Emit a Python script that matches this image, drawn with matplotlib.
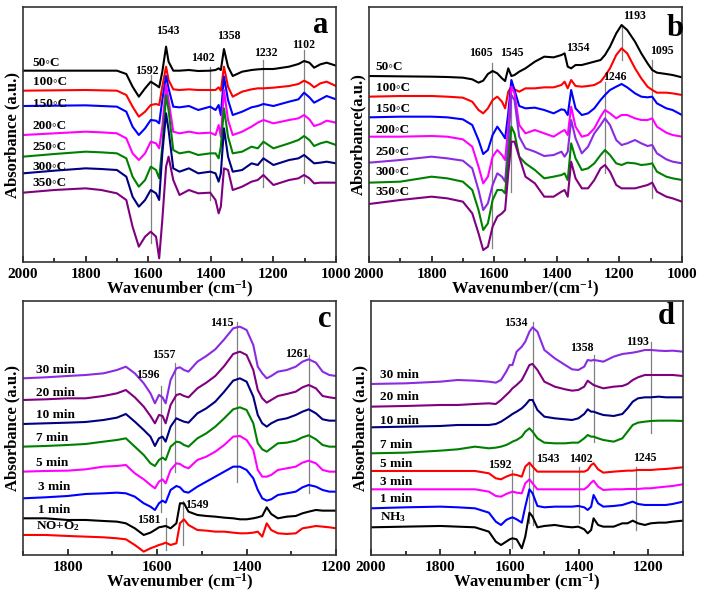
import numpy as np
import matplotlib
matplotlib.use('Agg')
import matplotlib.pyplot as plt
from matplotlib.ticker import MultipleLocator

plt.rcParams['font.family'] = ['Liberation Serif', 'DejaVu Sans']
plt.rcParams['font.weight'] = 'bold'
plt.rcParams['mathtext.fontset'] = 'custom'
plt.rcParams['mathtext.rm'] = 'Liberation Serif:bold'
plt.rcParams['mathtext.it'] = 'Liberation Serif:bold'
plt.rcParams['mathtext.bf'] = 'Liberation Serif:bold'
plt.rcParams['mathtext.default'] = 'rm'

# readings are taken from the scanned figure, in screen units (larger = lower)
# they are turned into offset absorbance by au()

# ---------------- panel a : NH3 adsorption vs temperature ----------------
wn_a = [2000, 1900, 1800, 1750, 1700, 1670, 1650, 1630, 1610, 1592, 1575, 1565, 1555,
        1543, 1535, 1520, 1500, 1470, 1440, 1402, 1385, 1375, 1368, 1358, 1345, 1330,
        1300, 1270, 1250, 1232, 1200, 1150, 1120, 1102, 1085, 1070, 1050, 1030, 1000]
names_a = ['50\u25e6C', '100\u25e6C', '150\u25e6C', '200\u25e6C', '250\u25e6C', '300\u25e6C', '350\u25e6C']
colors_a = ['black', 'red', 'blue', 'magenta', 'green', 'navy', 'purple']
a_50 = [212, 212, 212, 212, 212, 222, 260, 290, 265, 245, 255, 262, 215, 140, 185, 212, 212, 210, 213,
        212, 210, 205, 210, 147, 200, 228, 215, 210, 208, 207, 207, 200, 192, 183, 188, 203, 193, 188, 197]
a_100 = [272, 271, 270, 271, 272, 285, 320, 350, 335, 315, 312, 315, 260, 200, 240, 268, 270, 268, 270,
         270, 270, 262, 272, 200, 260, 290, 275, 268, 265, 265, 263, 258, 252, 242, 250, 262, 250, 245, 258]
a_150 = [318, 317, 316, 318, 320, 335, 380, 405, 385, 360, 362, 370, 300, 228, 265, 320, 322, 318, 330,
         320, 330, 315, 345, 230, 300, 345, 335, 322, 318, 312, 318, 305, 298, 278, 292, 308, 298, 288, 298]
a_200 = [405, 400, 395, 397, 400, 415, 460, 480, 460, 425, 430, 445, 380, 255, 300, 395, 400, 395, 400,
         398, 405, 375, 410, 270, 360, 405, 395, 380, 368, 360, 370, 360, 355, 345, 358, 378, 372, 362, 368]
a_250 = [470, 462, 455, 457, 460, 475, 530, 560, 540, 500, 510, 535, 440, 285, 330, 450, 460, 455, 465,
         460, 460, 475, 440, 325, 410, 460, 455, 440, 445, 425, 445, 430, 420, 408, 420, 438, 430, 425, 435]
a_300 = [520, 512, 505, 507, 510, 530, 590, 620, 600, 570, 580, 600, 460, 340, 390, 505, 515, 505, 520,
         515, 520, 545, 520, 385, 470, 515, 510, 490, 495, 475, 495, 480, 475, 465, 478, 490, 488, 485, 490]
a_350 = [578, 570, 565, 570, 580, 600, 680, 740, 710, 695, 710, 775, 660, 500, 470, 540, 585, 570, 580,
         578, 600, 640, 620, 505, 510, 570, 560, 545, 540, 525, 555, 540, 535, 525, 535, 550, 548, 548, 548]
label_a = [(1969, 190), (1969, 245), (1969, 312), (1969, 378), (1969, 440), (1969, 500), (1969, 548)]
peaks_a = [('1592', 1605, 212), ('1543', 1536, 92), ('1402', 1425, 175), ('1358', 1342, 107),
           ('1232', 1223, 158), ('1102', 1104, 135)]
lines_a = [(1592, 225, 730), (1402, 200, 600), (1232, 180, 560), (1102, 150, 550)]

# ---------------- panel b ----------------
wn_b = [2000, 1900, 1800, 1750, 1700, 1670, 1650, 1635, 1620, 1605, 1590, 1575, 1565, 1555, 1545,
        1535, 1520, 1500, 1470, 1440, 1410, 1385, 1375, 1365, 1354, 1340, 1320, 1300, 1280, 1260,
        1246, 1230, 1210, 1193, 1175, 1150, 1130, 1110, 1095, 1080, 1050, 1030, 1000]
names_b = names_a
colors_b = ['black', 'red', 'blue', 'magenta', '#8a2be2', 'green', 'purple']
b_50 = [228, 229, 230, 231, 233, 238, 248, 242, 222, 213, 220, 235, 243, 205, 228, 225, 215, 205, 185,
        170, 172, 165, 160, 200, 205, 195, 195, 190, 185, 180, 165, 140, 100, 75, 90, 125, 160, 190, 210,
        218, 222, 225, 232]
b_100 = [290, 288, 288, 290, 293, 305, 330, 340, 325, 300, 290, 305, 325, 275, 260, 268, 275, 265, 265,
         262, 262, 255, 245, 265, 240, 258, 260, 258, 255, 245, 228, 205, 165, 145, 160, 205, 235, 260,
         270, 278, 278, 280, 285]
b_150 = [352, 350, 350, 352, 358, 375, 420, 462, 450, 405, 380, 400, 415, 340, 240, 270, 318, 325, 323,
         330, 340, 328, 330, 345, 270, 325, 345, 340, 325, 300, 285, 270, 260, 252, 262, 280, 290, 292,
         290, 310, 325, 330, 345]
b_200 = [410, 410, 408, 410, 418, 440, 500, 550, 530, 470, 450, 465, 480, 380, 260, 280, 375, 400, 390,
         400, 410, 395, 390, 405, 320, 380, 410, 405, 385, 350, 330, 340, 355, 345, 345, 355, 360, 360,
         355, 380, 398, 405, 410]
b_250 = [488, 480, 470, 475, 482, 505, 570, 630, 610, 555, 520, 530, 545, 430, 285, 300, 410, 445, 455,
         468, 465, 455, 470, 455, 360, 415, 460, 440, 400, 375, 355, 375, 420, 435, 430, 420, 430, 438,
         435, 460, 478, 485, 490]
b_300 = [548, 545, 530, 535, 545, 570, 630, 690, 670, 600, 570, 570, 580, 470, 380, 400, 470, 490, 510,
         535, 530, 525, 520, 540, 430, 475, 510, 505, 490, 465, 450, 465, 490, 495, 488, 490, 495, 493,
         490, 515, 530, 535, 540]
b_350 = [612, 600, 590, 595, 605, 640, 700, 750, 740, 680, 650, 640, 630, 520, 425, 425, 470, 530, 550,
         590, 590, 575, 570, 590, 485, 535, 565, 565, 540, 505, 495, 515, 555, 565, 565, 565, 560, 555,
         548, 575, 590, 595, 605]
label_b = [(1979, 202), (1979, 265), (1979, 328), (1979, 390), (1979, 455), (1979, 515), (1979, 575)]
peaks_b = [('1605', 1642, 160), ('1545', 1545, 160), ('1354', 1332, 145), ('1246', 1214, 230),
           ('1193', 1150, 48), ('1095', 1064, 153)]
lines_b = [(1607, 190, 745), (1545, 240, 575), (1246, 245, 520), (1193, 75, 180), (1095, 180, 595)]

# ---------------- panel c : NO+O2 then NH3 ----------------
wn_c = [1900, 1850, 1800, 1760, 1720, 1690, 1670, 1650, 1630, 1615, 1605, 1596, 1588, 1581, 1570,
        1557, 1549, 1540, 1530, 1510, 1490, 1470, 1450, 1430, 1415, 1400, 1385, 1375, 1365, 1355,
        1345, 1330, 1310, 1290, 1275, 1261, 1245, 1230, 1215, 1200]
names_c = ['30 min', '20 min', '10 min', '7 min', '5 min', '3 min', '1 min', 'NO+O$_2$']
colors_c = ['#8a2be2', 'purple', 'navy', 'green', 'magenta', 'blue', 'black', 'red']
c_30 = [265, 262, 258, 255, 250, 240, 230, 250, 280, 310, 340, 315, 322, 340, 270, 235, 232, 240, 245,
        215, 198, 178, 148, 115, 110, 120, 165, 230, 250, 265, 258, 245, 240, 230, 215, 208, 218, 245,
        255, 258]
c_20 = [330, 328, 325, 325, 318, 310, 300, 322, 350, 378, 400, 375, 378, 400, 345, 315, 312, 318, 322,
        295, 278, 258, 228, 192, 185, 195, 240, 300, 325, 338, 330, 318, 312, 305, 292, 285, 295, 318,
        322, 325]
c_10 = [402, 400, 398, 396, 390, 383, 372, 395, 420, 440, 468, 445, 440, 455, 410, 385, 390, 395, 398,
        370, 355, 335, 305, 272, 265, 275, 320, 375, 400, 410, 400, 390, 385, 375, 365, 358, 370, 388,
        392, 392]
c_7 = [470, 468, 465, 462, 455, 450, 445, 470, 495, 520, 528, 510, 503, 510, 470, 455, 457, 465, 470,
       445, 430, 410, 385, 358, 352, 360, 400, 460, 478, 485, 475, 460, 458, 452, 442, 436, 448, 465,
       470, 470]
c_5 = [545, 543, 542, 538, 530, 528, 525, 550, 568, 585, 595, 575, 568, 580, 540, 520, 522, 530, 535,
       510, 500, 485, 465, 440, 438, 450, 480, 540, 560, 560, 555, 540, 535, 530, 518, 512, 520, 540,
       545, 545]
c_3 = [625, 622, 618, 612, 610, 608, 610, 620, 640, 650, 660, 640, 632, 638, 600, 588, 592, 605, 608,
       590, 575, 560, 545, 530, 530, 540, 565, 600, 625, 632, 628, 615, 610, 605, 592, 585, 590, 600,
       605, 605]
c_1 = [685, 685, 690, 690, 693, 695, 700, 715, 735, 728, 720, 712, 710, 708, 715, 700, 640, 640, 665,
       675, 678, 680, 683, 685, 688, 688, 685, 682, 678, 652, 672, 685, 680, 678, 670, 665, 660, 662,
       662, 662]
c_no = [735, 735, 738, 740, 742, 745, 748, 765, 785, 775, 770, 765, 762, 758, 765, 760, 700, 688, 705,
        720, 722, 725, 725, 728, 730, 730, 728, 725, 740, 700, 720, 730, 732, 730, 715, 712, 708, 710,
        712, 715]
label_c = [(1870, 240), (1870, 310), (1870, 375), (1870, 445), (1870, 518), (1867, 590), (1867, 660),
           (1870, 708)]
peaks_c = [('1596', 1620, 255), ('1557', 1586, 195), ('1415', 1456, 100), ('1261', 1287, 192),
           ('1581', 1618, 690), ('1549', 1512, 645)]
lines_c = [(1592, 288, 665), (1560, 218, 545), (1421, 95, 575), (1261, 195, 610), (1581, 685, 780),
           (1543, 632, 765)]

# ---------------- panel d : NH3 then NO+O2 ----------------
wn_d = [2000, 1900, 1800, 1750, 1700, 1660, 1640, 1625, 1610, 1600, 1592, 1580, 1565, 1555, 1543,
        1534, 1520, 1500, 1470, 1440, 1420, 1402, 1385, 1375, 1365, 1358, 1345, 1330, 1300, 1275,
        1260, 1245, 1230, 1210, 1193, 1170, 1150, 1130, 1100]
names_d = ['30 min', '20 min', '10 min', '7 min', '5 min', '3 min', '1 min', 'NH$_3$']
colors_d = ['#8a2be2', 'purple', 'navy', 'green', 'red', 'magenta', 'blue', 'black']
d_30 = [282, 280, 275, 270, 272, 275, 278, 270, 245, 225, 225, 185, 170, 155, 125, 112, 125, 180, 205,
        225, 238, 240, 230, 210, 212, 210, 212, 215, 200, 192, 190, 188, 185, 180, 180, 182, 183, 182, 185]
d_20 = [350, 348, 345, 345, 342, 340, 342, 330, 315, 305, 295, 285, 270, 250, 225, 222, 240, 275, 290,
        298, 302, 300, 290, 272, 280, 285, 290, 295, 290, 288, 282, 270, 262, 255, 255, 255, 255, 255, 258]
d_10 = [412, 410, 408, 405, 405, 405, 402, 395, 385, 378, 372, 365, 355, 345, 330, 330, 360, 380, 385,
        388, 390, 385, 372, 358, 365, 365, 370, 375, 378, 372, 355, 335, 325, 322, 322, 320, 322, 322, 322]
d_7 = [490, 488, 482, 478, 470, 475, 473, 470, 465, 460, 455, 450, 440, 425, 415, 425, 445, 458, 460,
       460, 458, 458, 445, 435, 440, 440, 445, 450, 455, 445, 425, 405, 398, 395, 393, 392, 392, 392, 393]
d_5 = [543, 543, 543, 543, 543, 550, 565, 568, 560, 556, 553, 555, 560, 530, 518, 530, 545, 545, 545,
       545, 545, 545, 545, 540, 525, 520, 538, 548, 545, 543, 542, 542, 540, 540, 540, 538, 537, 535, 532]
d_3 = [598, 598, 598, 598, 598, 605, 618, 620, 612, 608, 605, 608, 610, 580, 568, 580, 598, 598, 598,
       598, 598, 598, 598, 590, 578, 572, 590, 600, 598, 598, 597, 597, 597, 595, 595, 592, 590, 588, 583]
d_1 = [655, 652, 650, 652, 655, 668, 695, 705, 690, 685, 682, 688, 698, 650, 598, 610, 648, 652, 650,
       650, 650, 648, 652, 660, 650, 615, 640, 650, 648, 645, 640, 635, 642, 645, 645, 645, 645, 642, 635]
d_nh3 = [712, 710, 708, 710, 712, 725, 755, 765, 755, 748, 745, 748, 775, 740, 668, 680, 712, 708, 705,
         710, 712, 710, 718, 730, 720, 685, 705, 710, 710, 700, 700, 692, 700, 705, 700, 698, 698, 695, 692]
label_d = [(1973, 255), (1973, 320), (1973, 393), (1973, 465), (1973, 522), (1973, 575), (1973, 628),
           (1973, 680)]
peaks_d = [('1534', 1583, 100), ('1358', 1391, 175), ('1193', 1231, 157), ('1592', 1628, 525),
           ('1543', 1489, 508), ('1402', 1395, 508), ('1245', 1210, 505)]
lines_d = [(1534, 95, 705), (1358, 195, 455), (1193, 155, 430), (1592, 540, 775), (1543, 520, 700),
           (1400, 530, 700), (1236, 530, 720)]


def au(r):
    return (800 - np.asarray(r, dtype=float)) / 100


def draw_panel(ax, wn, curves, names, colors, label_pos, peaks, lines, letter, letter_pos,
               xlim, ylim, major, minor, xlabel, ylabel):
    for (x, r0, r1) in lines:
        ax.plot([x, x], [au(r0), au(r1)], color='#808080', lw=0.9, zorder=1)
    for y, name, c, (lx, lr) in zip(curves, names, colors, label_pos):
        ax.plot(wn, au(y), color=c, lw=1.5, zorder=2)
        ax.text(lx, au(lr), name, fontsize=9.5, fontweight='bold', ha='left', va='center')
    for txt, px, pr in peaks:
        ax.text(px, au(pr), txt, fontsize=8.5, fontweight='bold', ha='center', va='center')
    ax.text(letter_pos[0], au(letter_pos[1]), letter, fontsize=22, fontweight='bold',
            ha='center', va='center')
    ax.set_xlim(*xlim)
    ax.set_ylim(au(ylim[0]), au(ylim[1]))
    ax.set_yticks([])
    ax.xaxis.set_major_locator(MultipleLocator(major))
    ax.xaxis.set_minor_locator(MultipleLocator(minor))
    ax.tick_params(axis='x', which='both', direction='in', top=False, labelsize=11, pad=4)
    ax.tick_params(axis='x', which='major', length=4, width=1.1)
    ax.tick_params(axis='x', which='minor', length=3, width=1.1)
    for lab in ax.get_xticklabels():
        lab.set_fontweight('bold')
    for sp in ax.spines.values():
        sp.set_linewidth(1.2)
        sp.set_color('#333333')
    ax.set_xlabel(xlabel, fontsize=12, fontweight='bold', labelpad=-1)
    ax.set_ylabel(ylabel, fontsize=12, fontweight='bold', labelpad=2)


fig = plt.figure(figsize=(7.04, 5.99), dpi=100)
ax_a = fig.add_axes([0.0327, 0.5626, 0.4446, 0.4257])
ax_b = fig.add_axes([0.5241, 0.5626, 0.4446, 0.4257])
ax_c = fig.add_axes([0.0327, 0.0735, 0.4446, 0.4240])
ax_d = fig.add_axes([0.5270, 0.0735, 0.4432, 0.4240])

draw_panel(ax_a, wn_a, [a_50, a_100, a_150, a_200, a_250, a_300, a_350], names_a, colors_a,
           label_a, peaks_a, lines_a, 'a', (1048, 75), (2000, 1000), (786, 21), 200, 100,
           'Wavenumber (cm$^{-1}$)', 'Absorbance (a.u.)')
draw_panel(ax_b, wn_b, [b_50, b_100, b_150, b_200, b_250, b_300, b_350], names_b, colors_b,
           label_b, peaks_b, lines_b, 'b', (1021, 85), (2000, 1000), (786, 21), 200, 100,
           'Wavenumber/(cm$^{-1}$)', 'Absorbance(a.u.)')
draw_panel(ax_c, wn_c, [c_30, c_20, c_10, c_7, c_5, c_3, c_1, c_no], names_c, colors_c,
           label_c, peaks_c, lines_c, 'c', (1226, 88), (1900, 1200), (795, 33), 200, 100,
           'Wavenumber (cm$^{-1}$)', 'Absorbance (a.u.)')
draw_panel(ax_d, wn_d, [d_30, d_20, d_10, d_7, d_5, d_3, d_1, d_nh3], names_d, colors_d,
           label_d, peaks_d, lines_d, 'd', (1148, 80), (2000, 1100), (795, 33), 200, 100,
           'Wavenumber (cm$^{-1}$)', 'Absorbance (a.u.)')
ax_d.set_xticks([2000, 1800, 1600, 1400, 1200])
for lab in ax_d.get_xticklabels():
    lab.set_fontweight('bold')

fig.savefig('out.png', dpi=100)
